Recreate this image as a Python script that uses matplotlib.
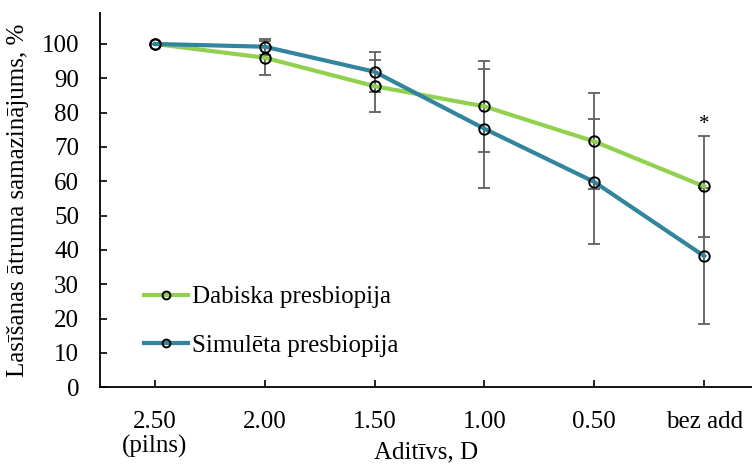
import matplotlib
matplotlib.use("Agg")
import matplotlib.pyplot as plt

categories = ["2.50\n(pilns)", "2.00", "1.50", "1.00", "0.50", "bez add"]
dabiska = [100, 96, 87.7, 81.8, 71.6, 58.5]
dabiska_err = [0, 5.0, 7.6, 13.2, 14.0, 14.7]
simuleta = [100, 99.2, 91.9, 75.3, 59.8, 38.2]
simuleta_err = [0, 2.3, 5.8, 17.4, 18.2, 19.8]
labels = ["Dabiska presbiopija", "Simulēta presbiopija"]
star_value = 73.8

plt.rcParams['font.family'] = ['Liberation Serif', 'DejaVu Serif']
FS = 18

fig = plt.figure(figsize=(7.52, 4.67), dpi=100)
ax = fig.add_axes([0.133, 0.171, 0.867, 0.801])

x = list(range(len(categories)))
green = '#92D050'
blue = '#31859C'
errc = '#606060'

for y, e in [(dabiska, dabiska_err), (simuleta, simuleta_err)]:
    ax.errorbar(x, y, yerr=e, fmt='none', ecolor=errc, elinewidth=1.3, capsize=4.5, capthick=1.3, zorder=2)
for y, c, lab in [(dabiska, green, labels[0]), (simuleta, blue, labels[1])]:
    ax.plot(x, y, color=c, lw=3, marker='o', markersize=7.5, markerfacecolor='none',
            markeredgecolor='black', markeredgewidth=1.4, label=lab, zorder=3)

ax.text(x[-1], star_value, '*', ha='center', va='bottom', fontsize=15)

ax.set_xlim(-0.5, 5.436)
ax.set_ylim(0, 109)
ax.set_yticks(range(0, 101, 10))
ax.set_xticks(x)
ax.set_xticklabels(categories, linespacing=1.1)
ax.tick_params(axis='both', direction='in', length=5, width=1.2, labelsize=FS, color='black')
ax.tick_params(axis='y', pad=15)
ax.tick_params(axis='x', pad=17)
for s in ['top', 'right']:
    ax.spines[s].set_visible(False)
for s in ['left', 'bottom']:
    ax.spines[s].set_linewidth(1.3)

ax.set_ylabel("Lasīšanas ātruma samazinājums, %", fontsize=FS)
ax.yaxis.set_label_coords(-0.109, 0.5)
ax.set_xlabel("Aditīvs, D", fontsize=FS)
ax.xaxis.set_label_coords(0.5, -0.145)

ax.legend(loc='lower left', bbox_to_anchor=(0.068, 0.08), frameon=False, fontsize=FS,
          borderaxespad=0, borderpad=0, handlelength=1.76, handletextpad=0.15, labelspacing=1.05,
          markerscale=0.75)

fig.savefig("out.png", dpi=100)
